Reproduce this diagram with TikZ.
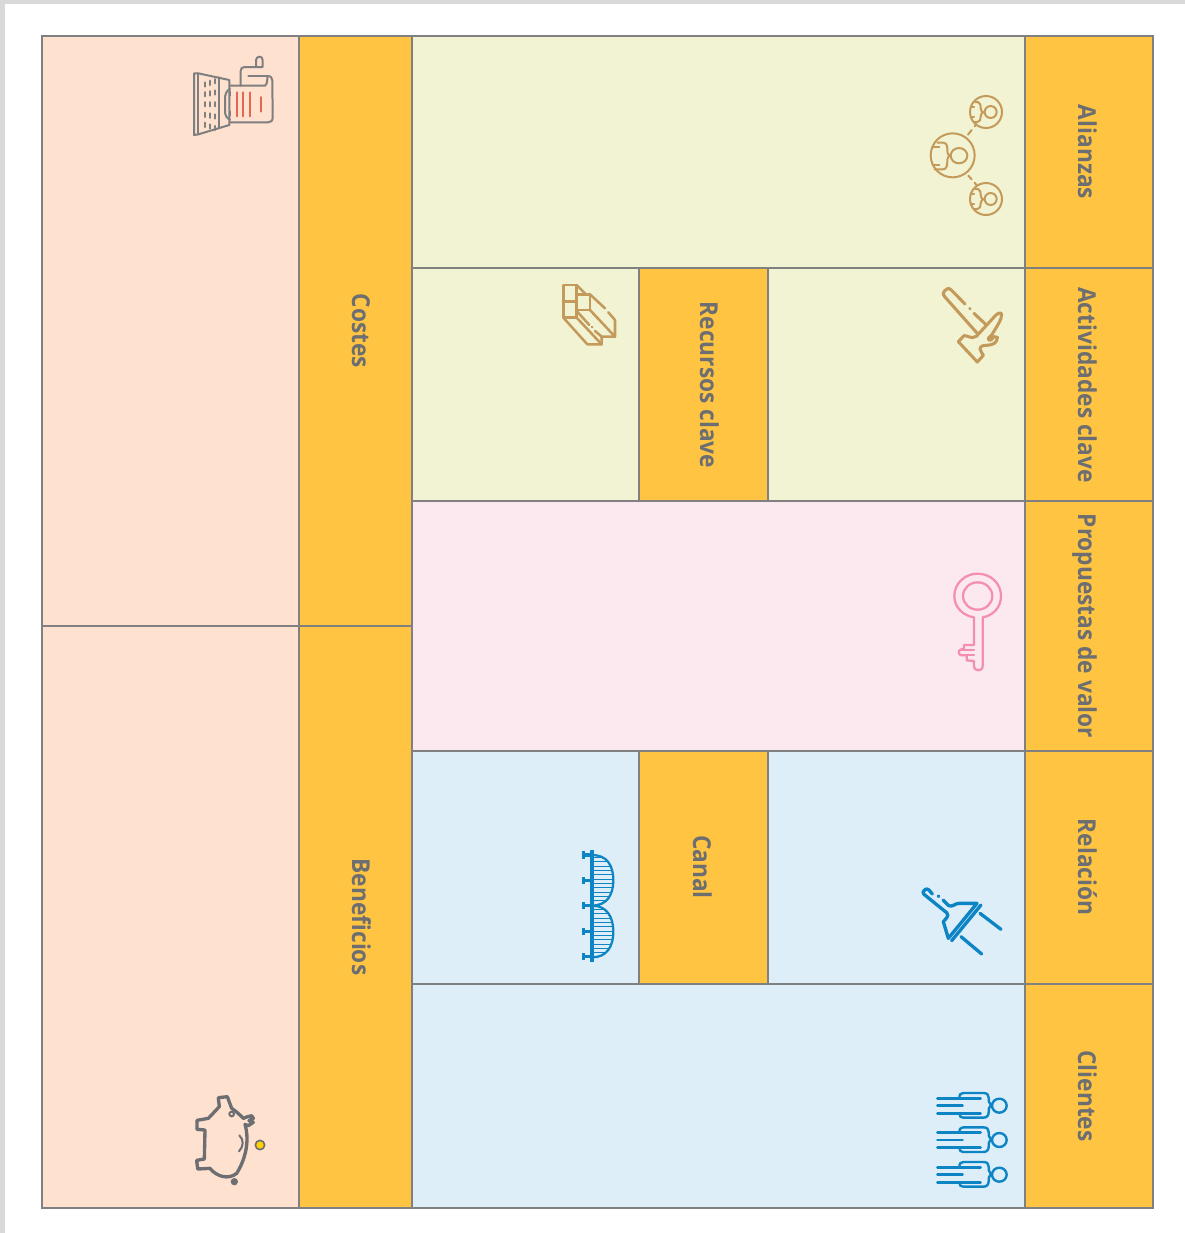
\documentclass[tikz,border=0pt]{standalone}
\usepackage{fontspec}
\setmainfont[FakeStretch=0.92]{Open Sans}
\definecolor{orangec}{HTML}{FFC542}
\definecolor{peachc}{HTML}{FFE1D0}
\definecolor{greenc}{HTML}{F2F3D3}
\definecolor{pinkc}{HTML}{FCE8EF}
\definecolor{bluec}{HTML}{DEEEF8}
\definecolor{edgec}{HTML}{808080}
\definecolor{textc}{HTML}{6D6E71}
\definecolor{tanc}{HTML}{C49A5B}
\definecolor{rosec}{HTML}{F48FB1}
\definecolor{iconblue}{HTML}{0D85C5}
\definecolor{redc}{HTML}{E2684F}
\definecolor{greyic}{HTML}{7F7F7F}
\definecolor{coinc}{HTML}{FFD100}
\tikzset{
  cell/.style={draw=edgec,line width=1.1pt},
  lab/.style={anchor=base,rotate=-90,text=textc,font=\fontsize{18.5}{20}\selectfont\bfseries,inner sep=0pt},
  ic/.style={line width=1.5pt,line cap=round,line join=round},
  zoomed/.style={x=0.25pt,y=-0.25pt}
}
\begin{document}
\begin{tikzpicture}[x=0.75pt,y=-0.75pt]
\useasboundingbox (0,0) rectangle (1185,1233);
\fill[white] (0,0) rectangle (1185,1233);
\fill[black!15] (0,0) rectangle (1185,4);
\fill[black!15] (0,0) rectangle (5,1233);
% cells
\filldraw[cell,fill=peachc] (42,36) rectangle (299,626);
\filldraw[cell,fill=peachc] (42,626) rectangle (299,1208);
\filldraw[cell,fill=orangec] (299,36) rectangle (412,626);
\filldraw[cell,fill=orangec] (299,626) rectangle (412,1208);
\filldraw[cell,fill=greenc] (412,36) rectangle (1025,268);
\filldraw[cell,fill=greenc] (412,268) rectangle (639,501);
\filldraw[cell,fill=orangec] (639,268) rectangle (768,501);
\filldraw[cell,fill=greenc] (768,268) rectangle (1025,501);
\filldraw[cell,fill=pinkc] (412,501) rectangle (1025,751);
\filldraw[cell,fill=bluec] (412,751) rectangle (639,984);
\filldraw[cell,fill=orangec] (639,751) rectangle (768,984);
\filldraw[cell,fill=bluec] (768,751) rectangle (1025,984);
\filldraw[cell,fill=bluec] (412,984) rectangle (1025,1208);
\filldraw[cell,fill=orangec] (1025,36) rectangle (1153,268);
\filldraw[cell,fill=orangec] (1025,268) rectangle (1153,501);
\filldraw[cell,fill=orangec] (1025,501) rectangle (1153,751);
\filldraw[cell,fill=orangec] (1025,751) rectangle (1153,984);
\filldraw[cell,fill=orangec] (1025,984) rectangle (1153,1208);
% labels
\node[lab] (alianzas) at (1078,152) {Alianzas};
\node[lab] (actividades) at (1078,385) {Actividades clave};
\node[lab] (propuestas) at (1078,626) {Propuestas de valor};
\node[lab] (relacion) at (1078,867) {Relación};
\node[lab] (clientes) at (1078,1096) {Clientes};
\node[lab] (recursos) at (700,385) {Recursos clave};
\node[lab] (canal) at (693,867) {Canal};
\node[lab] (costes) at (352,331) {Costes};
\node[lab] (beneficios) at (352,917) {Beneficios};
% alliances icon
\begin{scope}[shift={(900,80)},zoomed,ic,draw=tanc]
\draw (158,226) circle[radius=66];
\draw (258,96) circle[radius=48];
\draw (258,357) circle[radius=48];
\draw (177,227) circle[x radius=25,y radius=23];
\draw (272,96) circle[radius=18];
\draw (272,357) circle[radius=18];
\draw (112,188) -- (130,188) .. controls (142,190) and (142,200) .. (142,212) .. controls (142,222) and (146,226) .. (150,227) .. controls (146,228) and (142,232) .. (142,242) .. controls (142,258) and (140,268) .. (128,268) -- (104,268);
\draw (100,200) -- (118,200);
\draw (100,255) -- (118,255);
\draw (226,66) -- (234,66) .. controls (242,70) and (242,76) .. (242,84) .. controls (242,92) and (246,96) .. (250,97) .. controls (246,98) and (242,102) .. (242,110) .. controls (242,118) and (240,126) .. (232,126) -- (222,126);
\draw (212,80) -- (222,80);
\draw (212,112) -- (222,112);
\draw (226,327) -- (234,327) .. controls (242,331) and (242,337) .. (242,345) .. controls (242,353) and (246,357) .. (250,358) .. controls (246,359) and (242,363) .. (242,371) .. controls (242,379) and (240,387) .. (232,387) -- (222,387);
\draw (212,341) -- (222,341);
\draw (212,373) -- (222,373);
\draw (204,164) -- (215,150);
\draw (224,139) -- (229,132);
\draw (205,287) -- (215,298);
\draw (224,308) -- (230,316);
\end{scope}
% printer icon
\begin{scope}[shift={(180,45)},zoomed,ic,draw=greyic]
\draw (42,85) -- (55,85) -- (148,105) -- (148,240) -- (55,268) -- (42,270) -- cycle;
\draw (55,85) -- (55,268);
\draw (118,97) -- (118,250);
\foreach \dx/\sl in {75/0,90/-3,105/-6}{
  \foreach \dy/\k in {112/0,141/1,171/2,203/3,233/4}{
    \draw (\dx,{\dy+\sl*(2-\k)*0.8}) -- (\dx,{\dy+13+\sl*(2-\k)*0.8});
  }
}
\draw (150,122) -- (255,122) .. controls (262,118) and (262,105) .. (262,93) .. controls (272,93) and (277,98) .. (277,106) -- (278,218) .. controls (278,228) and (272,232) .. (264,232) -- (150,232);
\draw (182,122) -- (182,78) .. controls (182,70) and (186,66) .. (194,66) -- (248,66) -- (248,46) .. controls (248,38) and (244,35) .. (238,35) .. controls (232,35) and (228,40) .. (228,46) -- (228,66);
\draw (205,93) -- (262,93);
\draw (150,132) .. controls (140,136) and (134,148) .. (135,165) -- (135,195) .. controls (134,210) and (140,220) .. (150,224);
\draw (150,140) -- (150,152);
\draw (150,212) -- (150,200);
\draw[redc] (170,142) -- (170,214);
\draw[redc] (190,142) -- (190,214);
\draw[redc] (210,142) -- (210,214);
\draw[redc] (243,156) -- (243,200);
\end{scope}
% boxes icon
\begin{scope}[shift={(550,275)},zoomed,ic,draw=tanc,line width=1.9pt]
\draw (40,30) rectangle (80,128);
\draw (40,80) -- (80,80);
\draw (80,58) rectangle (120,105);
\draw (80,30) -- (108,58);
\draw (120,58) -- (165,100);
\draw (175,112) -- (195,135) -- (195,185) -- (155,185) -- (155,208) -- (112,208) -- (40,128);
\draw (120,105) -- (195,185);
\draw (80,108) -- (118,150);
\draw (126,156) -- (127,157);
\draw (135,168) -- (155,185);
\draw (80,128) -- (155,208);
\end{scope}
% hammer icon
\begin{scope}[shift={(930,280)},zoomed,ic,draw=tanc,line width=2.3pt]
\draw (105,72) -- (64,30) .. controls (56,23) and (50,25) .. (44,32) .. controls (38,38) and (38,44) .. (44,50) -- (140,158);
\draw (119,85) -- (120,86);
\draw (132,100) -- (165,131);
\draw (85,185) -- (102,167) .. controls (112,165) and (125,180) .. (140,168) -- (195,108) .. controls (202,100) and (212,96) .. (215,102) .. controls (216,118) and (200,140) .. (185,165) .. controls (178,172) and (172,175) .. (175,178) .. controls (180,185) and (188,176) .. (192,170) -- (202,172) .. controls (202,188) and (190,195) .. (170,196) .. controls (160,196) and (150,198) .. (150,207) .. controls (150,215) and (158,218) .. (160,226) -- (142,246) -- cycle;
\end{scope}
% key icon
\begin{scope}[shift={(940,565)},zoomed,ic,draw=rosec,line width=1.7pt]
\draw (102,157) .. controls (70,152) and (43,128) .. (43,93) .. controls (43,55) and (75,26) .. (113,26) .. controls (152,26) and (183,55) .. (183,93) .. controls (183,128) and (158,152) .. (128,157) -- (128,302) .. controls (128,312) and (122,316) .. (115,316) .. controls (108,316) and (102,312) .. (102,302) -- (102,288) -- (80,286) -- (80,271) -- (64,271) .. controls (54,270) and (54,254) .. (64,253) -- (72,253) -- (72,240) -- (102,240) -- cycle;
\draw (113,93) circle[x radius=44,y radius=41];
\draw (66,254) -- (102,254);
\draw (80,271) -- (102,271);
\end{scope}
% bridge icon
\begin{scope}[shift={(570,840)},zoomed,ic,draw=iconblue]
\begin{scope}
\clip (66,45) .. controls (110,45) and (130,75) .. (130,121) .. controls (130,165) and (110,197) .. (66,197) .. controls (110,197) and (130,230) .. (130,275) .. controls (130,320) and (110,352) .. (66,352) -- cycle;
\foreach \yy in {52,65,...,350}{\draw[line width=.6pt] (66,\yy) -- (135,\yy);}
\end{scope}
\draw[line width=1.7pt] (66,45) .. controls (110,45) and (130,75) .. (130,121) .. controls (130,165) and (110,197) .. (66,197) .. controls (110,197) and (130,230) .. (130,275) .. controls (130,320) and (110,352) .. (66,352);
\draw[line width=3pt,line cap=butt] (66,30) -- (66,366);
\foreach \yy in {45,122,197,275,350}{
  \draw[line width=2.4pt,line cap=butt] (40,\yy) -- (66,\yy);
  \draw[line width=2.2pt,line cap=butt] (40,{\yy-11}) -- (40,{\yy+11});
}
\end{scope}
% brush icon
\begin{scope}[shift={(915,880)},zoomed,ic,draw=iconblue,line width=2.5pt]
\draw (52,42) -- (42,30) .. controls (34,23) and (26,30) .. (24,36) .. controls (24,42) and (28,44) .. (32,47) -- (95,98) .. controls (104,108) and (92,116) .. (85,125) -- (100,175) -- (186,70) -- (132,70) .. controls (120,70) and (110,84) .. (100,76) -- (84,60);
\draw (70,48) -- (71,49);
\draw (198,75) -- (110,182);
\draw (195,100) -- (258,148);
\draw (138,170) -- (200,222);
\end{scope}
% people icon
\begin{scope}[shift={(930,1085)},zoomed,ic,draw=iconblue,line width=1.8pt]
\foreach \off in {0,103,207}{
\begin{scope}[yshift={-\off*0.25pt}]
\draw (208,62) circle[x radius=22,y radius=21];
\draw (22,40) -- (152,40);
\draw (22,62) -- (98,62);
\draw (22,85) -- (152,85);
\draw (88,40) .. controls (88,28) and (92,24) .. (100,24) -- (160,24) .. controls (172,24) and (176,30) .. (176,38) .. controls (176,48) and (176,54) .. (183,60) .. controls (176,66) and (176,72) .. (176,82) .. controls (176,92) and (170,98) .. (160,98) -- (100,98) .. controls (92,98) and (88,94) .. (88,85);
\end{scope}
}
\end{scope}
% pig icon
\begin{scope}[shift={(185,1085)},zoomed,ic,draw=textc,line width=2.5pt]
\draw (70,100) -- (103,65) -- (100,38) -- (127,35) -- (140,70) .. controls (155,80) and (165,90) .. (175,100) -- (188,95) -- (200,92) -- (205,100) -- (192,107) -- (205,112) -- (190,122) -- (180,118) .. controls (195,170) and (180,225) .. (155,265) .. controls (130,285) and (95,275) .. (75,250) -- (38,252) -- (35,226) -- (58,222) -- (60,135) -- (36,133) -- (36,106) -- cycle;
\draw[line width=1.5pt] (140,87) circle[radius=7];
\draw[line width=1.5pt] (163,151) .. controls (178,165) and (175,185) .. (162,199);
\fill[textc] (148,290) circle[radius=11];
\filldraw[fill=coinc,line width=1.2pt] (225,180) circle[radius=14];
\end{scope}
\end{tikzpicture}
\end{document}
